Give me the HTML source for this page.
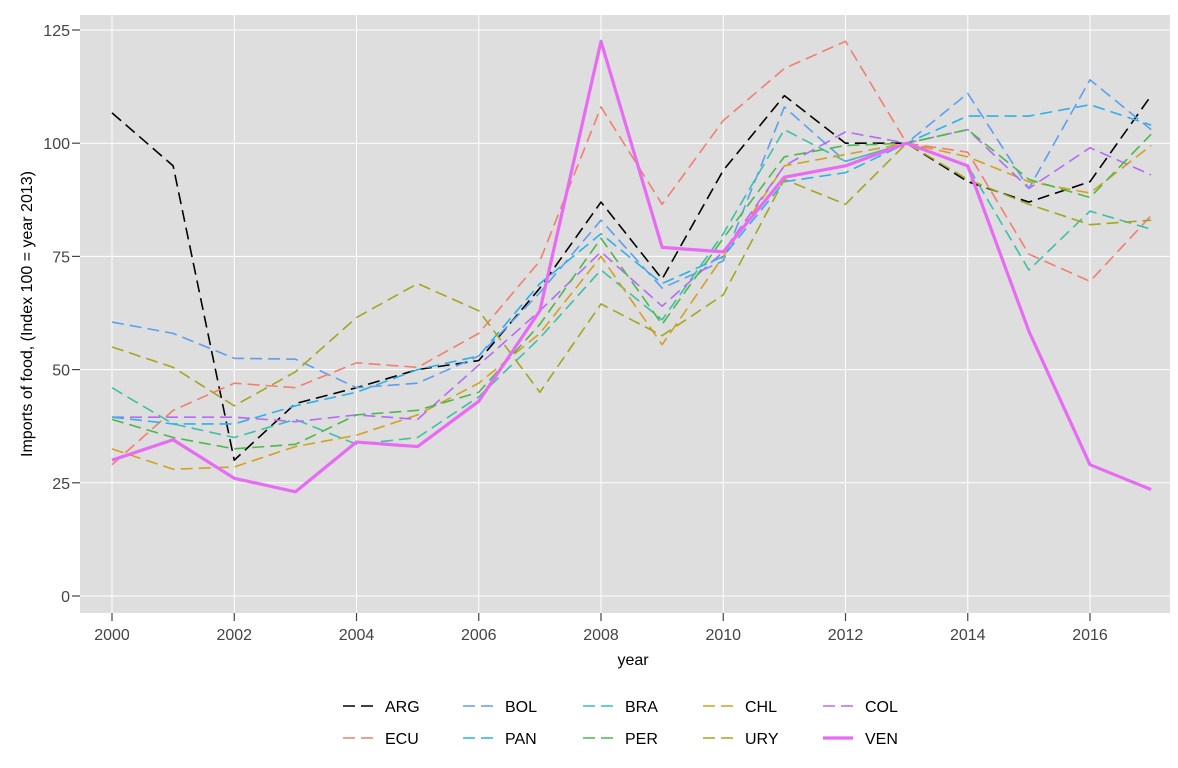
<!DOCTYPE html>
<html><head><meta charset="utf-8"><style>
body{margin:0;background:#fff;font-family:"Liberation Sans",sans-serif;}
svg text{font-family:"Liberation Sans",sans-serif;}
</style></head><body>
<svg id="c" width="1178" height="763">
<rect x="80" y="15" width="1090" height="598" fill="#dedede"/>
<g id="grid"></g><g id="lines"></g><g id="axes"></g><g id="legend"></g>
<text x="633" y="665" text-anchor="middle" font-size="16" fill="#000">year</text>
<text transform="translate(32,314) rotate(-90)" text-anchor="middle" font-size="16" fill="#000">Imports of food, (Index 100 = year 2013)</text>
</svg>
<script>
const years=[2000,2001,2002,2003,2004,2005,2006,2007,2008,2009,2010,2011,2012,2013,2014,2015,2016,2017];
const xTicks=[2000,2002,2004,2006,2008,2010,2012,2014,2016];
const yTicks=[0,25,50,75,100,125];
const seriesNames=["ARG","BOL","BRA","CHL","COL","ECU","PAN","PER","URY","VEN"];
const ARG=[106.7,95,30,42.5,46,50,52,68,87,70,94,110.5,100,100,91.5,87,91.5,110.5];
const BOL=[60.5,58,52.5,52.3,46,47,53,67,83,68,74,108,96,100,111,90,114,103];
const BRA=[46,38,35,39,33.5,35,44,57,72,61,80,103,96,100,95,72,85,81];
const CHL=[32.5,28,28.5,33,35.5,40,47,58,75,55.5,75,95,97.5,100,97,91.5,89,99.5];
const COL=[39.5,39.5,39.5,38.5,40,39,51,63,76,64,76,95,102.5,100,103,90,99,93];
const ECU=[29,41,47,46,51.5,50.5,58,74,108,86.5,105,116.5,122.5,100,98,75.5,69.5,84];
const PAN=[39.5,38,38,42,45,50,53,69,80,69,75,91.5,93.5,100,106,106,108.5,104];
const PER=[39,35,32.5,33.5,40,41,45,60,79,60,79,97,99.5,100,103,92,88,102];
const URY=[55,50.5,42,49.5,61.5,69,63,45,64.5,57.5,66.5,92,86.5,100,92,86.5,82,83];
const VEN=[30,34.5,26,23,34,33,43,63,122.5,77,76,92.5,95,100,95,58.5,29,23.5];
const dataMap={ARG,BOL,BRA,CHL,COL,ECU,PAN,PER,URY,VEN};
const colors={ARG:"#000",BOL:"#5E9EF0",BRA:"#3DBFA8",CHL:"#D4A020",COL:"#B56BF5",ECU:"#F07F6E",PAN:"#2FB0E8",PER:"#4CB84C",URY:"#A5A520",VEN:"#E76BF3"};
const NS="http://www.w3.org/2000/svg";
const xs=y=>112+(y-2000)*(1090-112)/16;
const ys=v=>596-v*(596-30)/125;
function mk(t,a,p){const e=document.createElementNS(NS,t);for(const k in a)e.setAttribute(k,a[k]);p.appendChild(e);return e;}
const grid=document.getElementById('grid'),axes=document.getElementById('axes');
xTicks.forEach(t=>{const g=mk('line',{x1:xs(t),x2:xs(t),y1:15,y2:613,stroke:'#fff','stroke-width':1},grid);


const tk=mk('line',{x1:xs(t),x2:xs(t),y1:613,y2:621,stroke:'#444','stroke-width':1.2},axes);


const l=mk('text',{x:xs(t),y:640,'text-anchor':'middle','font-size':16,fill:'#444'},axes);l.textContent=t;

});
yTicks.forEach(t=>{const g=mk('line',{x1:80,x2:1170,y1:ys(t),y2:ys(t),stroke:'#fff','stroke-width':1},grid);


const tk=mk('line',{x1:72,x2:80,y1:ys(t),y2:ys(t),stroke:'#444','stroke-width':1.2},axes);


const l=mk('text',{x:70,y:ys(t)+6,'text-anchor':'end','font-size':16,fill:'#444'},axes);l.textContent=t;

});
const lines=document.getElementById('lines');
seriesNames.forEach(n=>{const d=dataMap[n];const pts=d.map((v,i)=>xs(years[i])+','+ys(v)).join(' ');
const ven=n==="VEN";
const p=mk('polyline',{points:pts,fill:'none',stroke:colors[n],'stroke-width':ven?3.2:1.6,'stroke-dasharray':ven?'none':'12 6','stroke-linejoin':'round'},lines);

});
const leg=document.getElementById('legend');
const legOrder=[["ARG","BOL","BRA","CHL","COL"],["ECU","PAN","PER","URY","VEN"]];
legOrder.forEach((row,r)=>row.forEach((n,c)=>{const kx=343+c*120,ky=706+r*32;
const ven=n==="VEN";
const k=mk('line',{x1:kx,x2:kx+30,y1:ky,y2:ky,stroke:colors[n],'stroke-width':ven?3.2:1.6,'stroke-dasharray':ven?'none':'12 6'},leg);


const t=mk('text',{x:kx+42,y:ky+6,'font-size':16,fill:'#000'},leg);t.textContent=n;

}));
</script>
</body></html>
